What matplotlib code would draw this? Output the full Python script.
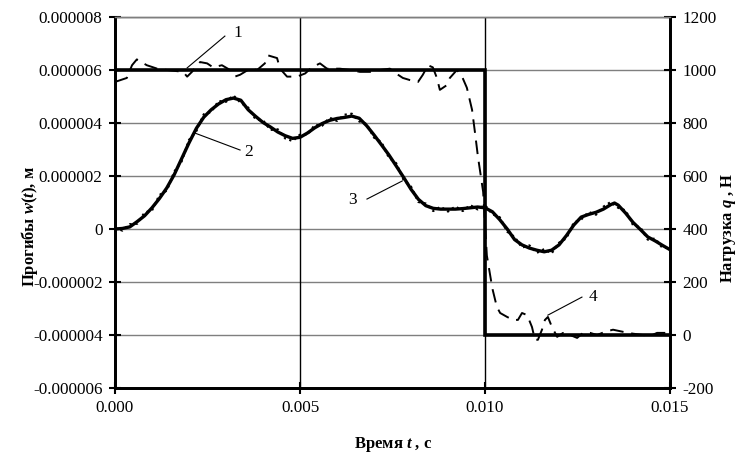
import matplotlib
matplotlib.use("Agg")
import matplotlib.pyplot as plt
import numpy as np

plt.rcParams['font.family'] = ['Liberation Serif', 'DejaVu Serif']
plt.rcParams['mathtext.fontset'] = 'custom'
plt.rcParams['mathtext.it'] = 'Liberation Serif:italic:bold'
plt.rcParams['mathtext.rm'] = 'Liberation Serif:bold'

# ---- data (time in ms, deflection in micrometres, load in N) ----
t_calc = [0.0, 0.2, 0.4, 0.6, 0.8, 1.0, 1.2, 1.4, 1.6, 1.8, 2.0, 2.2, 2.4, 2.6, 2.8,
          3.0, 3.2, 3.4, 3.6, 3.8, 4.0, 4.2, 4.4, 4.6, 4.8, 5.0, 5.2, 5.4, 5.6, 5.8,
          6.0, 6.2, 6.4, 6.6, 6.8, 7.0, 7.2, 7.4, 7.6, 7.8, 8.0, 8.2, 8.4, 8.6, 8.8,
          9.0, 9.2, 9.4, 9.6, 9.8, 10.0, 10.2, 10.4, 10.6, 10.8, 11.0, 11.2, 11.4,
          11.6, 11.8, 12.0, 12.2, 12.4, 12.6, 12.8, 13.0, 13.2, 13.4, 13.5, 13.6,
          13.8, 14.0, 14.2, 14.4, 14.6, 14.8, 15.0]
w_calc = [0.00, 0.02, 0.08, 0.28, 0.50, 0.80, 1.15, 1.55, 2.05, 2.65, 3.25, 3.80,
          4.22, 4.50, 4.72, 4.88, 4.94, 4.86, 4.50, 4.25, 4.02, 3.85, 3.66, 3.52,
          3.42, 3.46, 3.62, 3.82, 3.98, 4.10, 4.17, 4.21, 4.26, 4.18, 3.90, 3.55,
          3.18, 2.80, 2.38, 1.95, 1.50, 1.12, 0.88, 0.78, 0.75, 0.75, 0.75, 0.77,
          0.80, 0.83, 0.80, 0.65, 0.35, 0.00, -0.40, -0.60, -0.72, -0.80, -0.86,
          -0.80, -0.60, -0.25, 0.15, 0.45, 0.55, 0.63, 0.75, 0.92, 0.98, 0.90,
          0.60, 0.25, -0.02, -0.30, -0.45, -0.62, -0.78]

t_meas = [0.0, 0.2, 0.4, 0.6, 0.8, 1.0, 1.2, 1.4, 1.6, 1.8, 2.0, 2.2, 2.4, 2.6, 2.8,
          3.0, 3.2, 3.4, 3.6, 3.8, 4.0, 4.2, 4.4, 4.6, 4.8, 5.0, 5.2, 5.4, 5.6, 5.8,
          6.0, 6.2, 6.4, 6.6, 6.8, 7.0, 7.2, 7.4, 7.6, 7.8, 8.0, 8.2, 8.4, 8.6, 8.8,
          9.0, 9.2, 9.4, 9.6, 9.8, 10.0, 10.2, 10.4, 10.6, 10.8, 11.0, 11.2, 11.4,
          11.6, 11.8, 12.0, 12.2, 12.4, 12.6, 12.8, 13.0, 13.2, 13.4, 13.6, 13.8,
          14.0, 14.2, 14.4, 14.6, 14.8, 15.0]
w_meas = [0.04, -0.06, 0.18, 0.20, 0.62, 0.70, 1.28, 1.45, 2.16, 2.55, 3.36, 3.70,
          4.33, 4.42, 4.83, 4.80, 5.04, 4.76, 4.58, 4.14, 4.10, 3.74, 3.76, 3.42,
          3.32, 3.56, 3.55, 3.93, 3.90, 4.20, 4.08, 4.31, 4.35, 4.06, 3.96, 3.45,
          3.28, 2.70, 2.48, 1.85, 1.60, 1.02, 0.96, 0.68, 0.84, 0.66, 0.85, 0.68,
          0.90, 0.74, 0.90, 0.56, 0.44, -0.10, -0.30, -0.70, -0.62, -0.90, -0.76,
          -0.92, -0.52, -0.35, 0.24, 0.36, 0.64, 0.54, 0.84, 1.02, 0.80, 0.70,
          0.15, 0.06, -0.40, -0.36, -0.72, -0.70]

t_load = [0.0, 10.0, 10.0, 15.0]
q_load = [1000, 1000, 0, 0]

t_qmeas = [0.0, 0.32, 0.46, 0.59, 0.86, 1.14, 1.41, 1.84, 1.95, 2.08, 2.30, 2.49,
           2.65, 2.89, 3.11, 3.24, 3.38, 3.65, 3.84, 4.05, 4.14, 4.38, 4.46, 4.65,
           4.92, 5.14, 5.32, 5.54, 5.73, 6.08, 6.35, 6.62, 6.89, 7.16, 7.43, 7.65,
           7.78, 7.97, 8.19, 8.32, 8.46, 8.59, 8.70, 8.78, 8.97, 9.05, 9.24, 9.38,
           9.51, 9.65, 9.73, 9.81, 9.89, 9.95, 10.0, 10.05, 10.2, 10.32, 10.41,
           10.6, 10.76, 10.89, 11.0, 11.14, 11.27, 11.35, 11.43, 11.54, 11.62,
           11.70, 11.81, 11.95, 12.11, 12.30, 12.49, 12.65, 12.84, 13.03, 13.24,
           13.46, 13.73, 14.0, 14.27, 14.46, 14.65, 14.92]
q_qmeas = [955, 970, 1018, 1040, 1018, 1005, 1000, 993, 975, 993, 1030, 1025,
           1010, 1018, 1000, 975, 982, 1005, 1000, 1025, 1055, 1045, 1005, 975,
           975, 987, 1010, 1025, 1005, 1005, 1000, 993, 993, 1000, 1005, 982,
           970, 962, 955, 982, 1018, 1010, 970, 925, 943, 970, 1000, 975,
           933, 850, 763, 672, 597, 540, 420, 300, 175, 106, 83,
           68, 57, 57, 83, 75, 30, -18, -18, 20, 57,
           68, 30, -7, 8, 0, -11, 8, 8, 0, 12,
           20, 12, 5, 0, -4, 8, 8]

y_ticks = [-6, -4, -2, 0, 2, 4, 6, 8]
y_ticklabels = ['-0.000006', '-0.000004', '-0.000002', '0', '0.000002',
                '0.000004', '0.000006', '0.000008']
q_ticks = [-200, 0, 200, 400, 600, 800, 1000, 1200]
x_ticks = [0.0, 5.0, 10.0, 15.0]
x_ticklabels = ['0.000', '0.005', '0.010', '0.015']

ms = 1e-3
um = 1e-6

fig = plt.figure(figsize=(7.4, 4.57), dpi=100)
ax = fig.add_axes([115/740, 1-388/457, 555/740, 371/457])
ax2 = ax.twinx()

ax.set_xlim(0, 15*ms)
ax.set_ylim(-6*um, 8*um)
ax2.set_ylim(-200, 1200)

# grid
for v in y_ticks:
    ax.axhline(v*um, color='#7f7f7f', lw=1.0, zorder=0)
for v in [5.0, 10.0]:
    ax.axvline(v*ms, color='black', lw=1.0, zorder=0)

# curves
ax.plot(np.array(t_meas)*ms, np.array(w_meas)*um, color='black', lw=1.6,
        linestyle=(0, (1.0, 1.6)), zorder=3)
ax.plot(np.array(t_calc)*ms, np.array(w_calc)*um, color='black', lw=2.4, zorder=4)
ax2.plot(np.array(t_qmeas)*ms, q_qmeas, color='black', lw=1.4,
         linestyle=(0, (7, 4)), zorder=3)
ax2.plot(np.array(t_load)*ms, q_load, color='black', lw=2.6, zorder=4,
         solid_joinstyle='miter')

# ticks
ax.set_yticks([v*um for v in y_ticks])
ax.set_yticklabels(y_ticklabels)
ax.set_xticks([v*ms for v in x_ticks])
ax.set_xticklabels(x_ticklabels)
ax2.set_yticks(q_ticks)
ax2.set_yticklabels([str(v) for v in q_ticks])
ax.tick_params(axis='both', direction='inout', length=8, width=1.5, labelsize=12.3)
ax.tick_params(axis='y', pad=5)
ax.tick_params(axis='x', pad=5)
ax2.tick_params(axis='y', direction='inout', length=8, width=1.5, labelsize=12.3, pad=5)

for a in (ax, ax2):
    a.spines['left'].set_linewidth(2)
    a.spines['bottom'].set_linewidth(2)
    a.spines['right'].set_linewidth(2)
    a.spines['top'].set_linewidth(1)
    a.spines['top'].set_color('#7f7f7f')
ax.patch.set_visible(False)

# axis titles
fig.text(30/740, 1-227/457, 'Прогибы $w(t)$, м', rotation=90, ha='center', va='center',
         fontsize=12, fontweight='bold')
fig.text(729/740, 1-228/457, 'Нагрузка $q$ , Н', rotation=90, ha='center', va='center',
         fontsize=12, fontweight='bold')
fig.text(393/740, 1-445/457, 'Время $t$ , с', ha='center', va='center',
         fontsize=12, fontweight='bold')

# curve labels with leaders
labels = [('1', (2.97, 7.28), (1.95, 6.08), (3.32, 7.40)),
          ('2', (3.38, 2.98), (2.16, 3.62), (3.60, 2.90)),
          ('3', (6.81, 1.13), (7.76, 1.81), (6.43, 1.09)),
          ('4', (12.62, -2.57), (11.70, -3.25), (12.92, -2.57))]
for txt, p0, p1, pt in labels:
    ax.plot([p0[0]*ms, p1[0]*ms], [p0[1]*um, p1[1]*um], color='black', lw=0.8, zorder=5)
    ax.text(pt[0]*ms, pt[1]*um, txt, ha='center', va='center', fontsize=12.5, zorder=5)

fig.savefig('out.png', dpi=100)
